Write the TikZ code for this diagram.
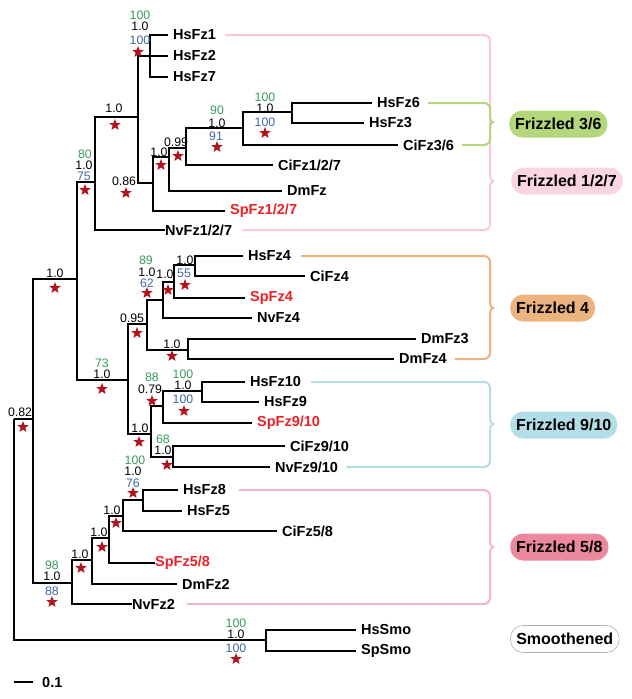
\documentclass[tikz,border=0pt]{standalone}
\usepackage{fontspec}
\setmainfont{Liberation Sans}
\usetikzlibrary{shapes.geometric,positioning}

\definecolor{mlgreen}{HTML}{3A9A5C}
\definecolor{njblue}{HTML}{3D66AE}
\definecolor{spred}{HTML}{EC2227}
\definecolor{stardark}{HTML}{B3111C}
\definecolor{pinkline}{HTML}{F9C8DA}
\definecolor{greenline}{HTML}{B4D77C}
\definecolor{orangeline}{HTML}{EBB47F}
\definecolor{cyanline}{HTML}{B4DEE7}
\definecolor{rosyline}{HTML}{F5B5C7}
\definecolor{fzpink}{HTML}{FBD5E4}
\definecolor{fzrose}{HTML}{EC899F}
\definecolor{smogray}{HTML}{B0B0B0}

\begin{document}
\begin{tikzpicture}[x=1pt,y=-1pt,
    br/.style={line width=1.9pt},
    leaf/.style={anchor=west,inner xsep=5pt,inner ysep=1pt,font=\fontsize{14.5}{15}\selectfont\bfseries},
    touch/.style={inner xsep=0pt},
    spname/.style={text=spred},
    pp/.style={font=\fontsize{12.3}{13}\selectfont,inner sep=0pt},
    ml/.style={pp,text=mlgreen},
    nj/.style={pp,text=njblue},
    hit/.style={star,star points=5,star point ratio=2.4,fill=stardark,minimum size=12pt,inner sep=0pt},
    grp/.style={anchor=west,rounded corners=13pt,minimum height=27pt,inner xsep=6pt,font=\fontsize{16}{16}\selectfont\bfseries},
    brk/.style={line width=2pt,rounded corners=6pt}]
    \useasboundingbox (0,0) rectangle (632,699);

    % internal nodes
    \coordinate (root) at (14,419);
    \coordinate (n082) at (33,419);
    \coordinate (nA) at (77,279);
    \coordinate (nB) at (95,182);
    \coordinate (nD) at (138,117);
    \coordinate (nE) at (150,56);
    \coordinate (n086) at (153,183);
    \coordinate (n10a) at (169,157);
    \coordinate (n099) at (186,148);
    \coordinate (n90) at (243,128);
    \coordinate (n36) at (292,112);
    \coordinate (nC) at (128,380);
    \coordinate (n095) at (147,324);
    \coordinate (n89) at (163,300);
    \coordinate (n10b) at (174,282);
    \coordinate (n55) at (195,265);
    \coordinate (nDm) at (188,350);
    \coordinate (n910) at (151,434);
    \coordinate (n079) at (163,406);
    \coordinate (nHs) at (202,391);
    \coordinate (n68) at (173,457);
    \coordinate (nF58) at (72,583);
    \coordinate (n10c) at (92,560);
    \coordinate (n10d) at (109,538);
    \coordinate (n10e) at (123,516);
    \coordinate (n76) at (143,500);
    \coordinate (nSmo) at (266,640);

    % leaves
    \node[leaf] (HsFz1) at (168,35) {HsFz1};
    \node[leaf] (HsFz2) at (168,56) {HsFz2};
    \node[leaf] (HsFz7) at (168,77) {HsFz7};
    \node[leaf] (HsFz6) at (372,103) {HsFz6};
    \node[leaf] (HsFz3) at (364,123) {HsFz3};
    \node[leaf] (CiFz36) at (398,145) {CiFz3/6};
    \node[leaf] (CiFz127) at (273,165) {CiFz1/2/7};
    \node[leaf] (DmFz) at (282,191) {DmFz};
    \node[leaf,spname] (SpFz127) at (225,211) {SpFz1/2/7};
    \node[leaf,touch] (NvFz127) at (165,230) {NvFz1/2/7};
    \node[leaf] (HsFz4) at (243,256) {HsFz4};
    \node[leaf] (CiFz4) at (305,276) {CiFz4};
    \node[leaf,spname] (SpFz4) at (245,298) {SpFz4};
    \node[leaf] (NvFz4) at (252,318) {NvFz4};
    \node[leaf] (DmFz3) at (416,339) {DmFz3};
    \node[leaf] (DmFz4) at (394,359) {DmFz4};
    \node[leaf] (HsFz10) at (245,382) {HsFz10};
    \node[leaf] (HsFz9) at (259,402) {HsFz9};
    \node[leaf,spname] (SpFz910) at (252,423) {SpFz9/10};
    \node[leaf] (CiFz910) at (285,446) {CiFz9/10};
    \node[leaf] (NvFz910) at (270,467) {NvFz9/10};
    \node[leaf] (HsFz8) at (178,490) {HsFz8};
    \node[leaf] (HsFz5) at (182,511) {HsFz5};
    \node[leaf] (CiFz58) at (277,531) {CiFz5/8};
    \node[leaf,spname,touch] (SpFz58) at (155,563) {SpFz5/8};
    \node[leaf] (DmFz2) at (177,584) {DmFz2};
    \node[leaf,touch] (NvFz2) at (132,604) {NvFz2};
    \node[leaf] (HsSmo) at (356,630) {HsSmo};
    \node[leaf] (SpSmo) at (356,651) {SpSmo};

    % branches
    \draw[br] (root) -- (n082) (root) |- (nSmo);
    \draw[br] (n082) |- (nA) (n082) |- (nF58);
    \draw[br] (nA) |- (nB) (nA) |- (nC);
    \draw[br] (nB) |- (nD) (nB) |- (NvFz127);
    \draw[br] (nD) |- (nE) (nD) |- (n086);
    \draw[br] (nE) |- (HsFz1) (nE) -- (HsFz2) (nE) |- (HsFz7);
    \draw[br] (n086) |- (n10a) (n086) |- (SpFz127);
    \draw[br] (n10a) |- (n099) (n10a) |- (DmFz);
    \draw[br] (n099) |- (n90) (n099) |- (CiFz127);
    \draw[br] (n90) |- (n36) (n90) |- (CiFz36);
    \draw[br] (n36) |- (HsFz6) (n36) |- (HsFz3);
    \draw[br] (nC) |- (n095) (nC) |- (n910);
    \draw[br] (n095) |- (n89) (n095) |- (nDm);
    \draw[br] (n89) |- (n10b) (n89) |- (NvFz4);
    \draw[br] (n10b) |- (n55) (n10b) |- (SpFz4);
    \draw[br] (n55) |- (HsFz4) (n55) |- (CiFz4);
    \draw[br] (nDm) |- (DmFz3) (nDm) |- (DmFz4);
    \draw[br] (n910) |- (n079) (n910) |- (n68);
    \draw[br] (n079) |- (nHs) (n079) |- (SpFz910);
    \draw[br] (nHs) |- (HsFz10) (nHs) |- (HsFz9);
    \draw[br] (n68) |- (CiFz910) (n68) |- (NvFz910);
    \draw[br] (nF58) |- (n10c) (nF58) |- (NvFz2);
    \draw[br] (n10c) |- (n10d) (n10c) |- (DmFz2);
    \draw[br] (n10d) |- (n10e) (n10d) |- (SpFz58);
    \draw[br] (n10e) |- (n76) (n10e) |- (CiFz58);
    \draw[br] (n76) |- (HsFz8) (n76) |- (HsFz5);
    \draw[br] (nSmo) |- (HsSmo) (nSmo) |- (SpSmo);

    % support values
    \node[ml] (nEml) at (140,15) {100};
    \node[pp] (nEpp) at (140,26) {1.0};
    \node[nj] (nEnj) at (140,40) {100};
    \node[hit] (nEs) at (138,52) {};
    \node[pp] (nDpp) at (114,108) {1.0};
    \node[hit] (nDs) at (115,125) {};
    \node[pp] (n086pp) at (124,181) {0.86};
    \node[hit] (n086s) at (126,193) {};
    \node[pp] (n10app) at (159,152) {1.0};
    \node[hit] (n10as) at (161,165) {};
    \node[pp] (n099pp) at (176,142) {0.99};
    \node[hit] (n099s) at (178,156) {};
    \node[ml] (n90ml) at (217,110) {90};
    \node[pp] (n90pp) at (217,123) {1.0};
    \node[nj] (n90nj) at (216,136) {91};
    \node[hit] (n90s) at (217,147) {};
    \node[ml] (n36ml) at (265,97) {100};
    \node[pp] (n36pp) at (265,108) {1.0};
    \node[nj] (n36nj) at (265,122) {100};
    \node[hit] (n36s) at (265,133) {};
    \node[ml] (nBml) at (85,154) {80};
    \node[pp] (nBpp) at (84,165) {1.0};
    \node[nj] (nBnj) at (84,176) {75};
    \node[hit] (nBs) at (85,190) {};
    \node[pp] (nApp) at (55,273) {1.0};
    \node[hit] (nAs) at (55,288) {};
    \node[ml] (nCml) at (102,363) {73};
    \node[pp] (nCpp) at (102,374) {1.0};
    \node[hit] (nCs) at (102,389) {};
    \node[pp] (n095pp) at (132,318) {0.95};
    \node[hit] (n095s) at (137,333) {};
    \node[pp] (nDmpp) at (172,344) {1.0};
    \node[hit] (nDms) at (172,356) {};
    \node[ml] (n89ml) at (146,260) {89};
    \node[pp] (n89pp) at (147,272) {1.0};
    \node[nj] (n89nj) at (147,283) {62};
    \node[hit] (n89s) at (147,293) {};
    \node[pp] (n10bpp) at (165,274) {1.0};
    \node[hit] (n10bs) at (168,290) {};
    \node[pp] (n55pp) at (185,260) {1.0};
    \node[nj] (n55nj) at (184,273) {55};
    \node[hit] (n55s) at (185,285) {};
    \node[pp] (n910pp) at (140,428) {1.0};
    \node[hit] (n910s) at (139,442) {};
    \node[ml] (n079ml) at (152,377) {88};
    \node[pp] (n079pp) at (150,389) {0.79};
    \node[hit] (n079s) at (152,401) {};
    \node[ml] (nHsml) at (183,374) {100};
    \node[pp] (nHspp) at (183,385) {1.0};
    \node[nj] (nHsnj) at (183,399) {100};
    \node[hit] (nHss) at (184,411) {};
    \node[ml] (n68ml) at (163,439) {68};
    \node[pp] (n68pp) at (163,450) {1.0};
    \node[hit] (n68s) at (167,465) {};
    \node[pp] (n082pp) at (20,412) {0.82};
    \node[hit] (n082s) at (23,427) {};
    \node[ml] (nF58ml) at (52,565) {98};
    \node[pp] (nF58pp) at (52,576) {1.0};
    \node[nj] (nF58nj) at (52,591) {88};
    \node[hit] (nF58s) at (52,602) {};
    \node[pp] (n10cpp) at (80,554) {1.0};
    \node[hit] (n10cs) at (81,568) {};
    \node[pp] (n10dpp) at (99,532) {1.0};
    \node[hit] (n10ds) at (102,547) {};
    \node[pp] (n10epp) at (112,510) {1.0};
    \node[hit] (n10es) at (116,523) {};
    \node[ml] (n76ml) at (135,460) {100};
    \node[pp] (n76pp) at (133,471) {1.0};
    \node[nj] (n76nj) at (133,483) {76};
    \node[hit] (n76s) at (133,493) {};
    \node[ml] (nSmoml) at (236,623) {100};
    \node[pp] (nSmopp) at (236,634) {1.0};
    \node[nj] (nSmonj) at (236,648) {100};
    \node[hit] (nSmos) at (236,659) {};

    % group brackets
    \draw[brk,pinkline] ([xshift=4pt]HsFz1.east) -| (490,171) .. controls (490,177) and (492,181) .. (498,181)
        .. controls (492,181) and (490,185) .. (490,191) |- ([xshift=10pt]NvFz127.east);
    \draw[brk,greenline] ([xshift=3pt]HsFz6.east) -| (490,112) .. controls (490,118) and (492,122) .. (498,122)
        .. controls (492,122) and (490,126) .. (490,132) |- ([xshift=3pt]CiFz36.east);
    \draw[brk,orangeline] ([xshift=5pt]HsFz4.east) -| (490,298) .. controls (490,304) and (492,308) .. (498,308)
        .. controls (492,308) and (490,312) .. (490,318) |- ([xshift=3pt]DmFz4.east);
    \draw[brk,cyanline] ([xshift=5pt]HsFz10.east) -| (490,414) .. controls (490,420) and (492,424) .. (498,424)
        .. controls (492,424) and (490,428) .. (490,434) |- ([xshift=3pt]NvFz910.east);
    \draw[brk,rosyline] ([xshift=8pt]HsFz8.east) -| (490,537) .. controls (490,543) and (492,547) .. (498,547)
        .. controls (492,547) and (490,551) .. (490,557) |- ([xshift=12pt]NvFz2.east);

    % group names
    \node[grp,fill=greenline] (fz36) at (509,124) {Frizzled 3/6};
    \node[grp,fill=fzpink] (fz127) at (511,181) {Frizzled 1/2/7};
    \node[grp,fill=orangeline] (fz4) at (510,308) {Frizzled 4};
    \node[grp,fill=cyanline] (fz910) at (510,425) {Frizzled 9/10};
    \node[grp,fill=fzrose] (fz58) at (510,547) {Frizzled 5/8};
    \node[grp,draw=smogray,line width=0.6pt,fill=white] (smo) at (510,639) {Smoothened};

    % scale bar
    \coordinate (sb0) at (14,682);
    \coordinate (sb1) at (33,682);
    \draw[br] (sb0) -- (sb1);
    \node[leaf] (sbl) at (37,682) {0.1};
\end{tikzpicture}
\end{document}
